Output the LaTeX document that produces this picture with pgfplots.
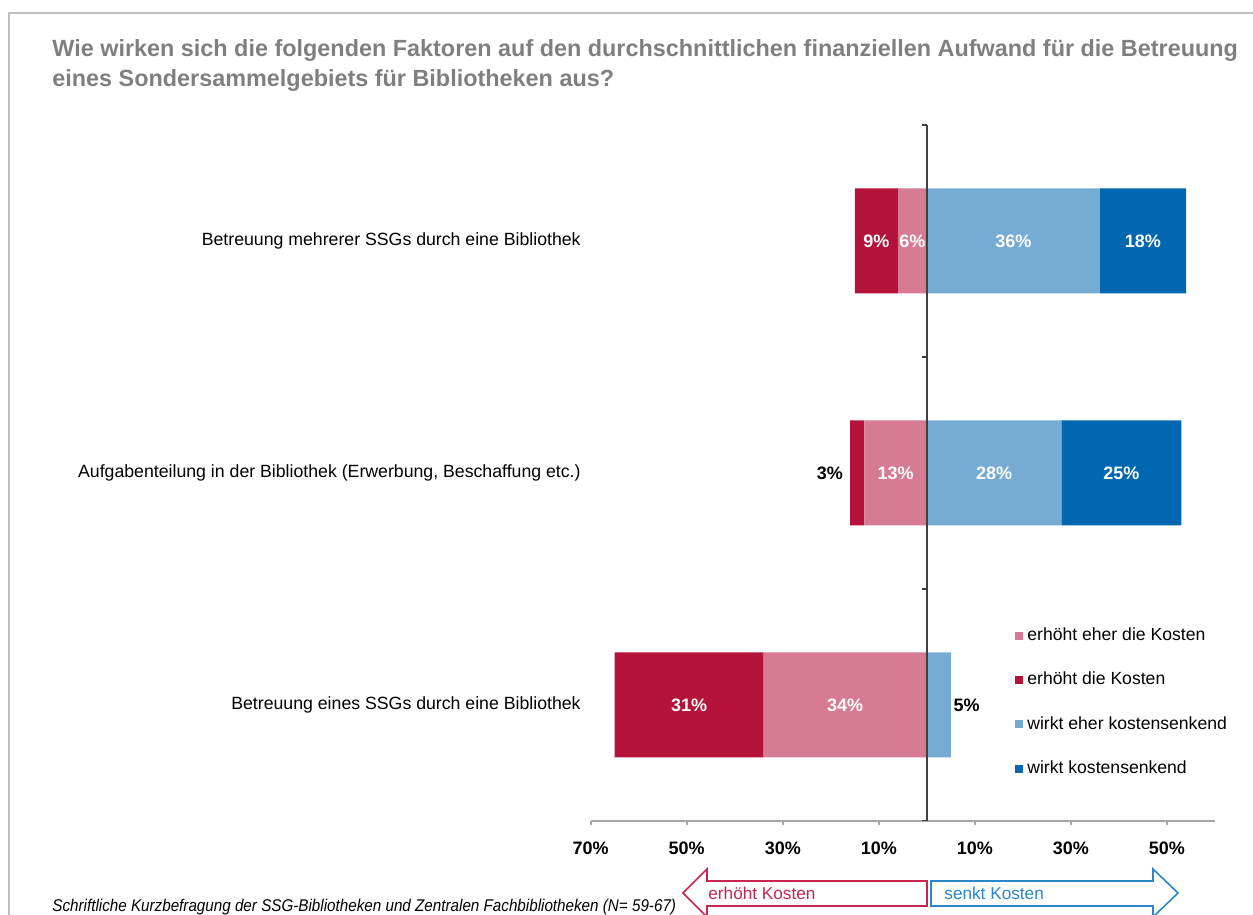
\documentclass[border=0pt]{standalone}
\usepackage{pgfplots}
\pgfplotsset{compat=1.18}
\usepackage{fontspec}
\setmainfont{Liberation Sans}
\definecolor{dred}{HTML}{B41239}
\definecolor{pinkc}{HTML}{D67B91}
\definecolor{lblue}{HTML}{76ACD3}
\definecolor{dblue}{HTML}{0067B0}
\definecolor{titlegray}{HTML}{7F7F7F}
\definecolor{framegray}{HTML}{BFBFBF}
\definecolor{arrred}{HTML}{C8254F}
\definecolor{arrblue}{HTML}{2A86C8}
\begin{document}
\begin{tikzpicture}
\path[use as bounding box] (0,0) rectangle (626.5pt,457.5pt);
\clip (0,0) rectangle (626.5pt,457.5pt);
\pgfplotsset{
  common/.style={
    width=312.15pt, height=348pt, scale only axis,
    at={(295.35pt,47pt)}, anchor=south west,
    xmin=-70, xmax=60, ymin=-0.5, ymax=2.5,
  }
}
\begin{axis}[common, xbar stacked, bar width=52.5pt,
  axis x line*=bottom, axis y line*=left,
  x axis line style={-, draw=black!35, line width=0.8pt},
  y axis line style={draw=none},
  tick align=outside, major tick length=2pt,
  xtick={-70,-50,-30,-10,10,30,50},
  xticklabels={70\%,50\%,30\%,10\%,10\%,30\%,50\%},
  xtick style={draw=black!35, line width=0.8pt},
  xticklabel style={font=\fontsize{9}{10}\selectfont\bfseries, yshift=-5pt},
  ytick={0,1,2},
  yticklabels={{Betreuung eines SSGs durch eine Bibliothek}, {Aufgabenteilung in der Bibliothek (Erwerbung, Beschaffung etc.)}, {Betreuung mehrerer SSGs durch eine Bibliothek}},
  ytick style={draw=none},
  yticklabel style={font=\fontsize{8.85}{10}\selectfont, xshift=0.5pt},
  legend style={at={(0.669,0.287)}, anchor=north west, draw=none, fill=none, font=\fontsize{8.8}{10}\selectfont, row sep=12.3pt, nodes={inner ysep=1pt, inner xsep=2.3pt}},
  legend cell align=left,
  legend image code/.code={\fill[#1] (0pt,-2pt) rectangle (4pt,2pt);},
]
\addplot[fill=pinkc, draw=none] coordinates {(-34,0) (-13,1) (-6,2)};
\addlegendentry{erhöht eher die Kosten}
\addplot[fill=dred, draw=none] coordinates {(-31,0) (-3,1) (-9,2)};
\addlegendentry{erhöht die Kosten}
\addlegendimage{fill=lblue, draw=none}
\addlegendentry{wirkt eher kostensenkend}
\addlegendimage{fill=dblue, draw=none}
\addlegendentry{wirkt kostensenkend}
\end{axis}
\begin{axis}[common, xbar stacked, bar width=52.5pt, hide axis]
\addplot[fill=lblue, draw=none] coordinates {(5,0) (28,1) (36,2)};
\addplot[fill=dblue, draw=none] coordinates {(0,0) (25,1) (18,2)};
\end{axis}
\begin{axis}[common, hide axis]
\addplot[draw=none, mark=none, nodes near coords, point meta=explicit symbolic,
  every node near coord/.append style={anchor=center, text=white, font=\fontsize{9}{10}\selectfont\bfseries}]
  coordinates {(-10.5,2) [9\%] (-3,2) [6\%] (18,2) [36\%] (45,2) [18\%]
  (-6.5,1) [13\%] (14,1) [28\%] (40.5,1) [25\%]
  (-49.5,0) [31\%] (-17,0) [34\%]};
\addplot[draw=none, mark=none, nodes near coords, point meta=explicit symbolic,
  every node near coord/.append style={anchor=center, text=black, font=\fontsize{9}{10}\selectfont\bfseries}]
  coordinates {(-20.2,1) [3\%] (8.3,0) [5\%]};
\draw[black!75, line width=0.8pt] (axis cs:0,-0.5) -- (axis cs:0,2.5);
\draw[black!75, line width=0.8pt] (axis cs:0,-0.5) -- ++(-2.5pt,0pt);
\draw[black!75, line width=0.8pt] (axis cs:0,0.5) -- ++(-2.5pt,0pt);
\draw[black!75, line width=0.8pt] (axis cs:0,1.5) -- ++(-2.5pt,0pt);
\draw[black!75, line width=0.8pt] (axis cs:0,2.5) -- ++(-2.5pt,0pt);
\end{axis}
\begin{scope}[yshift=457.5pt, x=0.5pt, y=-0.5pt]
\draw[framegray, line width=1pt] (9,930) -- (9,13) -- (1270,13);
\node[anchor=base west, inner sep=0, text=titlegray, font=\fontsize{11.7}{14}\selectfont\bfseries] at (52,57) {Wie wirken sich die folgenden Faktoren auf den durchschnittlichen finanziellen Aufwand für die Betreuung};
\node[anchor=base west, inner sep=0, text=titlegray, font=\fontsize{11.7}{14}\selectfont\bfseries] at (52,87) {eines Sondersammelgebiets für Bibliotheken aus?};
\node[anchor=base west, inner sep=0, font=\fontsize{8.5}{10}\selectfont\itshape] at (52,912) {\scalebox{0.895}[1]{Schriftliche Kurzbefragung der SSG-Bibliotheken und Zentralen Fachbibliotheken (N= 59-67)}};
\draw[arrred, line width=0.8pt] (683,893) -- (707,869) -- (707,881) -- (927,881) -- (927,906) -- (707,906) -- (707,917) -- cycle;
\node[anchor=west, inner sep=0, text=arrred, font=\fontsize{8.6}{10}\selectfont] at (708,893) {erhöht Kosten};
\draw[arrblue, line width=0.8pt] (931,881) -- (1153,881) -- (1153,869) -- (1178,893) -- (1153,917) -- (1153,906) -- (931,906) -- cycle;
\node[anchor=west, inner sep=0, text=arrblue, font=\fontsize{8.6}{10}\selectfont] at (944,893) {senkt Kosten};
\end{scope}
\end{tikzpicture}
\end{document}
